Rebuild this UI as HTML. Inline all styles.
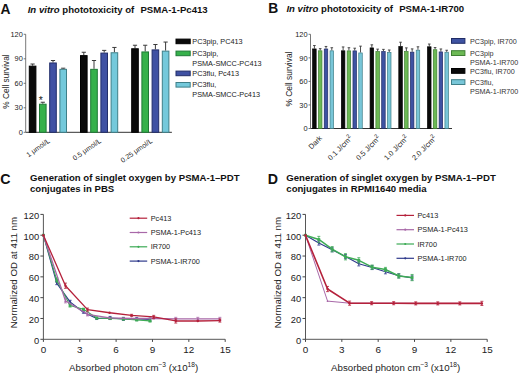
<!DOCTYPE html>
<html><head><meta charset="utf-8"><style>
html,body{margin:0;padding:0;background:#fff;}
svg{display:block;}
text{font-family:"Liberation Sans",sans-serif;white-space:pre;}
</style></head><body>
<svg width="520" height="374" viewBox="0 0 520 374" font-family="Liberation Sans, sans-serif">
<rect width="520" height="374" fill="#fff"/>
<line x1="25.7" y1="34.29600000000002" x2="25.7" y2="132.3" stroke="#555" stroke-width="0.8"/>
<line x1="25.7" y1="132.3" x2="171.9" y2="132.3" stroke="#333" stroke-width="1"/>
<line x1="23.7" y1="132.3" x2="25.7" y2="132.3" stroke="#555" stroke-width="0.8"/>
<text x="22.8" y="135.0" font-size="7.4" text-anchor="end" fill="#222">0</text>
<line x1="23.7" y1="107.799" x2="25.7" y2="107.799" stroke="#555" stroke-width="0.8"/>
<text x="22.8" y="110.49900000000001" font-size="7.4" text-anchor="end" fill="#222">30</text>
<line x1="23.7" y1="83.29800000000002" x2="25.7" y2="83.29800000000002" stroke="#555" stroke-width="0.8"/>
<text x="22.8" y="85.99800000000002" font-size="7.4" text-anchor="end" fill="#222">60</text>
<line x1="23.7" y1="58.79700000000001" x2="25.7" y2="58.79700000000001" stroke="#555" stroke-width="0.8"/>
<text x="22.8" y="61.497000000000014" font-size="7.4" text-anchor="end" fill="#222">90</text>
<line x1="23.7" y1="34.29600000000002" x2="25.7" y2="34.29600000000002" stroke="#555" stroke-width="0.8"/>
<text x="22.8" y="36.99600000000002" font-size="7.4" text-anchor="end" fill="#222">120</text>
<line x1="32.6" y1="65.65728000000001" x2="32.6" y2="64.02388000000002" stroke="#3a3a3a" stroke-width="1"/>
<line x1="30.5" y1="64.02388000000002" x2="34.7" y2="64.02388000000002" stroke="#3a3a3a" stroke-width="1"/>
<rect x="29.3" y="66.15728000000001" width="6.6" height="66.14272" fill="#0a0a0a" stroke="#000" stroke-width="1"/>
<line x1="42.8" y1="103.71550000000002" x2="42.8" y2="102.24544000000002" stroke="#3a3a3a" stroke-width="1"/>
<line x1="40.699999999999996" y1="102.24544000000002" x2="44.9" y2="102.24544000000002" stroke="#3a3a3a" stroke-width="1"/>
<rect x="39.5" y="104.21550000000002" width="6.6" height="28.08449999999999" fill="#36b14b" stroke="#1f7a36" stroke-width="1"/>
<line x1="53.0" y1="62.47215000000001" x2="53.0" y2="60.51207000000001" stroke="#3a3a3a" stroke-width="1"/>
<line x1="50.9" y1="60.51207000000001" x2="55.1" y2="60.51207000000001" stroke="#3a3a3a" stroke-width="1"/>
<rect x="49.7" y="62.97215000000001" width="6.6" height="69.32785" fill="#3f51a3" stroke="#222e6a" stroke-width="1"/>
<line x1="63.199999999999996" y1="68.84241" x2="63.199999999999996" y2="68.18905000000001" stroke="#3a3a3a" stroke-width="1"/>
<line x1="61.099999999999994" y1="68.18905000000001" x2="65.3" y2="68.18905000000001" stroke="#3a3a3a" stroke-width="1"/>
<rect x="59.9" y="69.34241" width="6.6" height="62.95759000000001" fill="#74c9db" stroke="#3f7f88" stroke-width="1"/>
<line x1="83.8" y1="55.12185000000001" x2="83.8" y2="52.26340000000002" stroke="#3a3a3a" stroke-width="1"/>
<line x1="81.7" y1="52.26340000000002" x2="85.89999999999999" y2="52.26340000000002" stroke="#3a3a3a" stroke-width="1"/>
<rect x="80.5" y="55.62185000000001" width="6.6" height="76.67815" fill="#0a0a0a" stroke="#000" stroke-width="1"/>
<line x1="94.0" y1="68.84241" x2="94.0" y2="60.51207000000001" stroke="#3a3a3a" stroke-width="1"/>
<line x1="91.9" y1="60.51207000000001" x2="96.1" y2="60.51207000000001" stroke="#3a3a3a" stroke-width="1"/>
<rect x="90.7" y="69.34241" width="6.6" height="62.95759000000001" fill="#36b14b" stroke="#1f7a36" stroke-width="1"/>
<line x1="104.2" y1="52.590080000000015" x2="104.2" y2="50.384990000000016" stroke="#3a3a3a" stroke-width="1"/>
<line x1="102.10000000000001" y1="50.384990000000016" x2="106.3" y2="50.384990000000016" stroke="#3a3a3a" stroke-width="1"/>
<rect x="100.9" y="53.090080000000015" width="6.6" height="79.20992" fill="#3f51a3" stroke="#222e6a" stroke-width="1"/>
<line x1="114.39999999999999" y1="52.26340000000002" x2="114.39999999999999" y2="47.44487000000001" stroke="#3a3a3a" stroke-width="1"/>
<line x1="112.3" y1="47.44487000000001" x2="116.49999999999999" y2="47.44487000000001" stroke="#3a3a3a" stroke-width="1"/>
<rect x="111.1" y="52.76340000000002" width="6.6" height="79.53659999999999" fill="#74c9db" stroke="#3f7f88" stroke-width="1"/>
<line x1="135.0" y1="48.261570000000006" x2="135.0" y2="45.239780000000025" stroke="#3a3a3a" stroke-width="1"/>
<line x1="132.9" y1="45.239780000000025" x2="137.1" y2="45.239780000000025" stroke="#3a3a3a" stroke-width="1"/>
<rect x="131.7" y="48.761570000000006" width="6.6" height="83.53843" fill="#0a0a0a" stroke="#000" stroke-width="1"/>
<line x1="145.2" y1="51.44670000000001" x2="145.2" y2="45.239780000000025" stroke="#3a3a3a" stroke-width="1"/>
<line x1="143.1" y1="45.239780000000025" x2="147.29999999999998" y2="45.239780000000025" stroke="#3a3a3a" stroke-width="1"/>
<rect x="141.89999999999998" y="51.94670000000001" width="6.6" height="80.3533" fill="#36b14b" stroke="#1f7a36" stroke-width="1"/>
<line x1="155.4" y1="49.404950000000014" x2="155.4" y2="44.504750000000016" stroke="#3a3a3a" stroke-width="1"/>
<line x1="153.3" y1="44.504750000000016" x2="157.5" y2="44.504750000000016" stroke="#3a3a3a" stroke-width="1"/>
<rect x="152.1" y="49.904950000000014" width="6.6" height="82.39505" fill="#3f51a3" stroke="#222e6a" stroke-width="1"/>
<line x1="165.6" y1="50.63000000000001" x2="165.6" y2="42.05465000000001" stroke="#3a3a3a" stroke-width="1"/>
<line x1="163.5" y1="42.05465000000001" x2="167.7" y2="42.05465000000001" stroke="#3a3a3a" stroke-width="1"/>
<rect x="162.29999999999998" y="51.13000000000001" width="6.6" height="81.17" fill="#74c9db" stroke="#3f7f88" stroke-width="1"/>
<text x="40.9" y="103.8" font-size="10.5" text-anchor="middle" fill="#222">*</text>
<text x="50.5" y="141.9" font-size="7.0" text-anchor="end" fill="#222" transform="rotate(-35.0 50.5 141.9)">1 μmol/L</text>
<text x="101.69999999999999" y="141.9" font-size="7.0" text-anchor="end" fill="#222" transform="rotate(-35.0 101.69999999999999 141.9)">0.5 μmol/L</text>
<text x="152.89999999999998" y="141.9" font-size="7.0" text-anchor="end" fill="#222" transform="rotate(-35.0 152.89999999999998 141.9)">0.25 μmol/L</text>
<text x="8.6" y="81.55" font-size="8.3" text-anchor="middle" fill="#222" transform="rotate(-90 8.6 81.55)">% Cell survival</text>
<rect x="176.0" y="39.1" width="14.2" height="4.6" fill="#0a0a0a" stroke="#000" stroke-width="1"/>
<text x="192.3" y="43.800000000000004" font-size="7.3" fill="#222">PC3pip, PC413</text>
<rect x="176.0" y="51.1" width="14.2" height="4.6" fill="#36b14b" stroke="#1f7a36" stroke-width="1"/>
<text x="192.3" y="55.800000000000004" font-size="7.3" fill="#222">PC3pip,</text>
<text x="192.3" y="65.80000000000001" font-size="7.3" fill="#222">PSMA-SMCC-PC413</text>
<rect x="176.0" y="71.1" width="14.2" height="4.6" fill="#3f51a3" stroke="#222e6a" stroke-width="1"/>
<text x="192.3" y="75.8" font-size="7.3" fill="#222">PC3flu, Pc413</text>
<rect x="176.0" y="82.5" width="14.2" height="4.6" fill="#74c9db" stroke="#3f7f88" stroke-width="1"/>
<text x="192.3" y="87.2" font-size="7.3" fill="#222">PC3flu,</text>
<text x="192.3" y="97.2" font-size="7.3" fill="#222">PSMA-SMCC-Pc413</text>
<text x="0.5" y="14.4" font-size="13.8" font-weight="bold" fill="#111">A</text>
<text x="27.7" y="12.5" font-size="9.6" font-weight="bold" fill="#111"><tspan font-style="italic">In vitro</tspan> phototoxicity of <tspan dx="3.5">PSMA-1-Pc413</tspan></text>
<line x1="310.5" y1="34.3" x2="310.5" y2="128.5" stroke="#555" stroke-width="0.8"/>
<line x1="310.5" y1="128.5" x2="452" y2="128.5" stroke="#333" stroke-width="1"/>
<line x1="308.5" y1="128.5" x2="310.5" y2="128.5" stroke="#555" stroke-width="0.8"/>
<text x="307.5" y="131.2" font-size="7.4" text-anchor="end" fill="#222">0</text>
<line x1="308.5" y1="104.95" x2="310.5" y2="104.95" stroke="#555" stroke-width="0.8"/>
<text x="307.5" y="107.65" font-size="7.4" text-anchor="end" fill="#222">30</text>
<line x1="308.5" y1="81.4" x2="310.5" y2="81.4" stroke="#555" stroke-width="0.8"/>
<text x="307.5" y="84.10000000000001" font-size="7.4" text-anchor="end" fill="#222">60</text>
<line x1="308.5" y1="57.849999999999994" x2="310.5" y2="57.849999999999994" stroke="#555" stroke-width="0.8"/>
<text x="307.5" y="60.55" font-size="7.4" text-anchor="end" fill="#222">90</text>
<line x1="308.5" y1="34.3" x2="310.5" y2="34.3" stroke="#555" stroke-width="0.8"/>
<text x="307.5" y="37.0" font-size="7.4" text-anchor="end" fill="#222">120</text>
<line x1="314.40000000000003" y1="48.587" x2="314.40000000000003" y2="45.525499999999994" stroke="#3a3a3a" stroke-width="0.9"/>
<line x1="313.1" y1="45.525499999999994" x2="315.70000000000005" y2="45.525499999999994" stroke="#3a3a3a" stroke-width="0.9"/>
<rect x="312.65000000000003" y="48.937000000000005" width="3.5" height="79.563" fill="#0a0a0a" stroke="#000" stroke-width="0.7"/>
<line x1="320.20000000000005" y1="50.47099999999999" x2="320.20000000000005" y2="48.665499999999994" stroke="#3a3a3a" stroke-width="0.9"/>
<line x1="318.90000000000003" y1="48.665499999999994" x2="321.50000000000006" y2="48.665499999999994" stroke="#3a3a3a" stroke-width="0.9"/>
<rect x="318.45000000000005" y="50.82099999999999" width="3.5" height="77.67900000000002" fill="#6cb954" stroke="#3f7f33" stroke-width="0.7"/>
<line x1="326.00000000000006" y1="48.665499999999994" x2="326.00000000000006" y2="46.4675" stroke="#3a3a3a" stroke-width="0.9"/>
<line x1="324.70000000000005" y1="46.4675" x2="327.30000000000007" y2="46.4675" stroke="#3a3a3a" stroke-width="0.9"/>
<rect x="324.25000000000006" y="49.015499999999996" width="3.5" height="79.48450000000001" fill="#3e53a2" stroke="#202c66" stroke-width="0.7"/>
<line x1="331.8" y1="50.47099999999999" x2="331.8" y2="47.72349999999999" stroke="#3a3a3a" stroke-width="0.9"/>
<line x1="330.5" y1="47.72349999999999" x2="333.1" y2="47.72349999999999" stroke="#3a3a3a" stroke-width="0.9"/>
<rect x="330.05" y="50.82099999999999" width="3.5" height="77.67900000000002" fill="#78c6d8" stroke="#3f7f88" stroke-width="0.7"/>
<line x1="343.12" y1="50.47099999999999" x2="343.12" y2="46.93849999999999" stroke="#3a3a3a" stroke-width="0.9"/>
<line x1="341.82" y1="46.93849999999999" x2="344.42" y2="46.93849999999999" stroke="#3a3a3a" stroke-width="0.9"/>
<rect x="341.37" y="50.82099999999999" width="3.5" height="77.67900000000002" fill="#0a0a0a" stroke="#000" stroke-width="0.7"/>
<line x1="348.92" y1="50.549499999999995" x2="348.92" y2="47.72349999999999" stroke="#3a3a3a" stroke-width="0.9"/>
<line x1="347.62" y1="47.72349999999999" x2="350.22" y2="47.72349999999999" stroke="#3a3a3a" stroke-width="0.9"/>
<rect x="347.17" y="50.899499999999996" width="3.5" height="77.60050000000001" fill="#6cb954" stroke="#3f7f33" stroke-width="0.7"/>
<line x1="354.72" y1="50.549499999999995" x2="354.72" y2="48.194500000000005" stroke="#3a3a3a" stroke-width="0.9"/>
<line x1="353.42" y1="48.194500000000005" x2="356.02000000000004" y2="48.194500000000005" stroke="#3a3a3a" stroke-width="0.9"/>
<rect x="352.97" y="50.899499999999996" width="3.5" height="77.60050000000001" fill="#3e53a2" stroke="#202c66" stroke-width="0.7"/>
<line x1="360.52" y1="52.59049999999999" x2="360.52" y2="46.153499999999994" stroke="#3a3a3a" stroke-width="0.9"/>
<line x1="359.21999999999997" y1="46.153499999999994" x2="361.82" y2="46.153499999999994" stroke="#3a3a3a" stroke-width="0.9"/>
<rect x="358.77" y="52.94049999999999" width="3.5" height="75.55950000000001" fill="#78c6d8" stroke="#3f7f88" stroke-width="0.7"/>
<line x1="371.84000000000003" y1="47.566500000000005" x2="371.84000000000003" y2="44.819" stroke="#3a3a3a" stroke-width="0.9"/>
<line x1="370.54" y1="44.819" x2="373.14000000000004" y2="44.819" stroke="#3a3a3a" stroke-width="0.9"/>
<rect x="370.09000000000003" y="47.916500000000006" width="3.5" height="80.5835" fill="#0a0a0a" stroke="#000" stroke-width="0.7"/>
<line x1="377.64000000000004" y1="51.177499999999995" x2="377.64000000000004" y2="49.1365" stroke="#3a3a3a" stroke-width="0.9"/>
<line x1="376.34000000000003" y1="49.1365" x2="378.94000000000005" y2="49.1365" stroke="#3a3a3a" stroke-width="0.9"/>
<rect x="375.89000000000004" y="51.527499999999996" width="3.5" height="76.97250000000001" fill="#6cb954" stroke="#3f7f33" stroke-width="0.7"/>
<line x1="383.44000000000005" y1="51.177499999999995" x2="383.44000000000005" y2="49.372" stroke="#3a3a3a" stroke-width="0.9"/>
<line x1="382.14000000000004" y1="49.372" x2="384.74000000000007" y2="49.372" stroke="#3a3a3a" stroke-width="0.9"/>
<rect x="381.69000000000005" y="51.527499999999996" width="3.5" height="76.97250000000001" fill="#3e53a2" stroke="#202c66" stroke-width="0.7"/>
<line x1="389.24" y1="52.041" x2="389.24" y2="50.0" stroke="#3a3a3a" stroke-width="0.9"/>
<line x1="387.94" y1="50.0" x2="390.54" y2="50.0" stroke="#3a3a3a" stroke-width="0.9"/>
<rect x="387.49" y="52.391" width="3.5" height="76.10900000000001" fill="#78c6d8" stroke="#3f7f88" stroke-width="0.7"/>
<line x1="400.56000000000006" y1="46.232" x2="400.56000000000006" y2="42.2285" stroke="#3a3a3a" stroke-width="0.9"/>
<line x1="399.26000000000005" y1="42.2285" x2="401.86000000000007" y2="42.2285" stroke="#3a3a3a" stroke-width="0.9"/>
<rect x="398.81000000000006" y="46.582" width="3.5" height="81.918" fill="#0a0a0a" stroke="#000" stroke-width="0.7"/>
<line x1="406.36000000000007" y1="51.177499999999995" x2="406.36000000000007" y2="47.8805" stroke="#3a3a3a" stroke-width="0.9"/>
<line x1="405.06000000000006" y1="47.8805" x2="407.6600000000001" y2="47.8805" stroke="#3a3a3a" stroke-width="0.9"/>
<rect x="404.61000000000007" y="51.527499999999996" width="3.5" height="76.97250000000001" fill="#6cb954" stroke="#3f7f33" stroke-width="0.7"/>
<line x1="412.1600000000001" y1="51.805499999999995" x2="412.1600000000001" y2="48.900999999999996" stroke="#3a3a3a" stroke-width="0.9"/>
<line x1="410.86000000000007" y1="48.900999999999996" x2="413.4600000000001" y2="48.900999999999996" stroke="#3a3a3a" stroke-width="0.9"/>
<rect x="410.4100000000001" y="52.155499999999996" width="3.5" height="76.34450000000001" fill="#3e53a2" stroke="#202c66" stroke-width="0.7"/>
<line x1="417.96000000000004" y1="49.84299999999999" x2="417.96000000000004" y2="46.78150000000001" stroke="#3a3a3a" stroke-width="0.9"/>
<line x1="416.66" y1="46.78150000000001" x2="419.26000000000005" y2="46.78150000000001" stroke="#3a3a3a" stroke-width="0.9"/>
<rect x="416.21000000000004" y="50.19299999999999" width="3.5" height="78.30700000000002" fill="#78c6d8" stroke="#3f7f88" stroke-width="0.7"/>
<line x1="429.28000000000003" y1="46.4675" x2="429.28000000000003" y2="44.034000000000006" stroke="#3a3a3a" stroke-width="0.9"/>
<line x1="427.98" y1="44.034000000000006" x2="430.58000000000004" y2="44.034000000000006" stroke="#3a3a3a" stroke-width="0.9"/>
<rect x="427.53000000000003" y="46.8175" width="3.5" height="81.6825" fill="#0a0a0a" stroke="#000" stroke-width="0.7"/>
<line x1="435.08000000000004" y1="49.372" x2="435.08000000000004" y2="47.566500000000005" stroke="#3a3a3a" stroke-width="0.9"/>
<line x1="433.78000000000003" y1="47.566500000000005" x2="436.38000000000005" y2="47.566500000000005" stroke="#3a3a3a" stroke-width="0.9"/>
<rect x="433.33000000000004" y="49.722" width="3.5" height="78.778" fill="#6cb954" stroke="#3f7f33" stroke-width="0.7"/>
<line x1="440.88000000000005" y1="51.56999999999999" x2="440.88000000000005" y2="48.9795" stroke="#3a3a3a" stroke-width="0.9"/>
<line x1="439.58000000000004" y1="48.9795" x2="442.18000000000006" y2="48.9795" stroke="#3a3a3a" stroke-width="0.9"/>
<rect x="439.13000000000005" y="51.919999999999995" width="3.5" height="76.58000000000001" fill="#3e53a2" stroke="#202c66" stroke-width="0.7"/>
<line x1="446.68" y1="51.884" x2="446.68" y2="50.23549999999999" stroke="#3a3a3a" stroke-width="0.9"/>
<line x1="445.38" y1="50.23549999999999" x2="447.98" y2="50.23549999999999" stroke="#3a3a3a" stroke-width="0.9"/>
<rect x="444.93" y="52.234" width="3.5" height="76.266" fill="#78c6d8" stroke="#3f7f88" stroke-width="0.7"/>
<text x="322.5" y="138.7" font-size="7.4" text-anchor="end" fill="#222" transform="rotate(-45 322.5 138.7)">Dark</text>
<text x="352.92" y="138.7" font-size="7.4" text-anchor="end" fill="#222" transform="rotate(-45 352.92 138.7)">0.1 J/cm<tspan dy="-3.1" font-size="5.8">2</tspan></text>
<text x="380.97" y="138.7" font-size="7.4" text-anchor="end" fill="#222" transform="rotate(-45 380.97 138.7)">0.5 J/cm<tspan dy="-3.1" font-size="5.8">2</tspan></text>
<text x="409.02000000000004" y="138.7" font-size="7.4" text-anchor="end" fill="#222" transform="rotate(-45 409.02000000000004 138.7)">1.0 J/cm<tspan dy="-3.1" font-size="5.8">2</tspan></text>
<text x="437.07000000000005" y="138.7" font-size="7.4" text-anchor="end" fill="#222" transform="rotate(-45 437.07000000000005 138.7)">2.0 J/cm<tspan dy="-3.1" font-size="5.8">2</tspan></text>
<text x="291.6" y="79.0" font-size="8.4" text-anchor="middle" fill="#222" transform="rotate(-90 291.6 79.0)">% Cell survival</text>
<rect x="451.5" y="38.5" width="13.4" height="4.8" fill="#3e53a2" stroke="#202c66" stroke-width="1"/>
<text x="470" y="43.9" font-size="7.2" fill="#333">PC3pip, IR700</text>
<rect x="451.5" y="50.7" width="13.4" height="4.8" fill="#6cb954" stroke="#3f7f33" stroke-width="1"/>
<text x="470" y="56.1" font-size="7.2" fill="#333">PC3pip</text>
<text x="470" y="65.4" font-size="7.2" fill="#333">PSMA-1-IR700</text>
<rect x="451.5" y="68.5" width="13.4" height="4.8" fill="#0a0a0a" stroke="#000" stroke-width="1"/>
<text x="470" y="73.9" font-size="7.2" fill="#333">PC3flu, IR700</text>
<rect x="451.5" y="79.69999999999999" width="13.4" height="4.8" fill="#78c6d8" stroke="#3f7f88" stroke-width="1"/>
<text x="470" y="85.1" font-size="7.2" fill="#333">PC3flu,</text>
<text x="470" y="94.39999999999999" font-size="7.2" fill="#333">PSMA-1-IR700</text>
<text x="268.3" y="13.1" font-size="13.8" font-weight="bold" fill="#111">B</text>
<text x="286.4" y="12.3" font-size="9.6" font-weight="bold" fill="#111"><tspan font-style="italic">In vitro</tspan> phototoxicity of <tspan dx="3.5">PSMA-1-IR700</tspan></text>
<line x1="43.4" y1="214.4" x2="43.4" y2="339.3" stroke="#444" stroke-width="0.9"/>
<line x1="43.4" y1="339.3" x2="225.2" y2="339.3" stroke="#444" stroke-width="0.9"/>
<line x1="40.4" y1="339.3" x2="43.4" y2="339.3" stroke="#444" stroke-width="1"/>
<text x="39.199999999999996" y="343.6" font-size="9.4" text-anchor="end" fill="#222">0</text>
<line x1="40.4" y1="318.48333333333335" x2="43.4" y2="318.48333333333335" stroke="#444" stroke-width="1"/>
<text x="39.199999999999996" y="322.78333333333336" font-size="9.4" text-anchor="end" fill="#222">20</text>
<line x1="40.4" y1="297.6666666666667" x2="43.4" y2="297.6666666666667" stroke="#444" stroke-width="1"/>
<text x="39.199999999999996" y="301.9666666666667" font-size="9.4" text-anchor="end" fill="#222">40</text>
<line x1="40.4" y1="276.85" x2="43.4" y2="276.85" stroke="#444" stroke-width="1"/>
<text x="39.199999999999996" y="281.15000000000003" font-size="9.4" text-anchor="end" fill="#222">60</text>
<line x1="40.4" y1="256.03333333333336" x2="43.4" y2="256.03333333333336" stroke="#444" stroke-width="1"/>
<text x="39.199999999999996" y="260.33333333333337" font-size="9.4" text-anchor="end" fill="#222">80</text>
<line x1="40.4" y1="235.2166666666667" x2="43.4" y2="235.2166666666667" stroke="#444" stroke-width="1"/>
<text x="39.199999999999996" y="239.5166666666667" font-size="9.4" text-anchor="end" fill="#222">100</text>
<line x1="40.4" y1="214.4" x2="43.4" y2="214.4" stroke="#444" stroke-width="1"/>
<text x="39.199999999999996" y="218.70000000000002" font-size="9.4" text-anchor="end" fill="#222">120</text>
<line x1="43.4" y1="339.3" x2="43.4" y2="341.90000000000003" stroke="#444" stroke-width="1"/>
<text x="43.4" y="353.1" font-size="9.9" text-anchor="middle" fill="#222">0</text>
<line x1="79.75999999999999" y1="339.3" x2="79.75999999999999" y2="341.90000000000003" stroke="#444" stroke-width="1"/>
<text x="79.75999999999999" y="353.1" font-size="9.9" text-anchor="middle" fill="#222">3</text>
<line x1="116.12" y1="339.3" x2="116.12" y2="341.90000000000003" stroke="#444" stroke-width="1"/>
<text x="116.12" y="353.1" font-size="9.9" text-anchor="middle" fill="#222">6</text>
<line x1="152.48" y1="339.3" x2="152.48" y2="341.90000000000003" stroke="#444" stroke-width="1"/>
<text x="152.48" y="353.1" font-size="9.9" text-anchor="middle" fill="#222">9</text>
<line x1="188.84" y1="339.3" x2="188.84" y2="341.90000000000003" stroke="#444" stroke-width="1"/>
<text x="188.84" y="353.1" font-size="9.9" text-anchor="middle" fill="#222">12</text>
<line x1="225.2" y1="339.3" x2="225.2" y2="341.90000000000003" stroke="#444" stroke-width="1"/>
<text x="225.2" y="353.1" font-size="9.9" text-anchor="middle" fill="#222">15</text>
<text x="69.1" y="370.6" font-size="9.7" fill="#222">Absorbed photon cm<tspan dy="-3.9" font-size="6.6">−3</tspan><tspan dy="3.9"> (x10</tspan><tspan dy="-3.9" font-size="6.6">18</tspan><tspan dy="3.9">)</tspan></text>
<text x="17.4" y="272.6" font-size="9.7" text-anchor="middle" fill="#222" transform="rotate(-90 17.4 272.6)">Normalized OD at 411 nm</text>
<text x="0.3" y="183.7" font-size="14.2" font-weight="bold" fill="#111">C</text>
<text x="30" y="180.7" font-size="9.6" font-weight="bold" fill="#111">Generation of singlet oxygen by PSMA-1–PDT</text>
<text x="30" y="192.4" font-size="9.6" font-weight="bold" fill="#111">conjugates in PBS</text>
<polyline points="43.40,235.22 56.73,283.10 70.06,301.83 83.40,312.24 96.73,318.48 110.06,317.96 123.39,318.90 136.72,319.00 150.06,319.52" fill="none" stroke="#2f3a8c" stroke-width="1.1" stroke-linejoin="round"/>
<path d="M42.08,234.12 L44.72,234.12 L43.40,236.43 Z" fill="#2f3a8c"/>
<line x1="56.732" y1="284.65625" x2="56.732" y2="281.53375" stroke="#2f3a8c" stroke-width="0.8"/>
<line x1="55.232" y1="284.65625" x2="58.232" y2="284.65625" stroke="#2f3a8c" stroke-width="0.8"/>
<line x1="55.232" y1="281.53375" x2="58.232" y2="281.53375" stroke="#2f3a8c" stroke-width="0.8"/>
<path d="M55.41,282.00 L58.05,282.00 L56.73,284.31 Z" fill="#2f3a8c"/>
<line x1="70.064" y1="303.39125" x2="70.064" y2="300.26875" stroke="#2f3a8c" stroke-width="0.8"/>
<line x1="68.564" y1="303.39125" x2="71.564" y2="303.39125" stroke="#2f3a8c" stroke-width="0.8"/>
<line x1="68.564" y1="300.26875" x2="71.564" y2="300.26875" stroke="#2f3a8c" stroke-width="0.8"/>
<path d="M68.74,300.73 L71.38,300.73 L70.06,303.04 Z" fill="#2f3a8c"/>
<line x1="83.39599999999999" y1="313.2791666666667" x2="83.39599999999999" y2="311.1975" stroke="#2f3a8c" stroke-width="0.8"/>
<line x1="81.89599999999999" y1="313.2791666666667" x2="84.89599999999999" y2="313.2791666666667" stroke="#2f3a8c" stroke-width="0.8"/>
<line x1="81.89599999999999" y1="311.1975" x2="84.89599999999999" y2="311.1975" stroke="#2f3a8c" stroke-width="0.8"/>
<path d="M82.08,311.14 L84.72,311.14 L83.40,313.45 Z" fill="#2f3a8c"/>
<line x1="96.728" y1="319.5241666666667" x2="96.728" y2="317.4425" stroke="#2f3a8c" stroke-width="0.8"/>
<line x1="95.228" y1="319.5241666666667" x2="98.228" y2="319.5241666666667" stroke="#2f3a8c" stroke-width="0.8"/>
<line x1="95.228" y1="317.4425" x2="98.228" y2="317.4425" stroke="#2f3a8c" stroke-width="0.8"/>
<path d="M95.41,317.38 L98.05,317.38 L96.73,319.69 Z" fill="#2f3a8c"/>
<line x1="110.06" y1="319.5241666666667" x2="110.06" y2="316.4016666666667" stroke="#2f3a8c" stroke-width="0.8"/>
<line x1="108.56" y1="319.5241666666667" x2="111.56" y2="319.5241666666667" stroke="#2f3a8c" stroke-width="0.8"/>
<line x1="108.56" y1="316.4016666666667" x2="111.56" y2="316.4016666666667" stroke="#2f3a8c" stroke-width="0.8"/>
<path d="M108.74,316.86 L111.38,316.86 L110.06,319.17 Z" fill="#2f3a8c"/>
<line x1="123.392" y1="320.46091666666666" x2="123.392" y2="317.33841666666666" stroke="#2f3a8c" stroke-width="0.8"/>
<line x1="121.892" y1="320.46091666666666" x2="124.892" y2="320.46091666666666" stroke="#2f3a8c" stroke-width="0.8"/>
<line x1="121.892" y1="317.33841666666666" x2="124.892" y2="317.33841666666666" stroke="#2f3a8c" stroke-width="0.8"/>
<path d="M122.07,317.80 L124.71,317.80 L123.39,320.11 Z" fill="#2f3a8c"/>
<line x1="136.724" y1="320.565" x2="136.724" y2="317.4425" stroke="#2f3a8c" stroke-width="0.8"/>
<line x1="135.224" y1="320.565" x2="138.224" y2="320.565" stroke="#2f3a8c" stroke-width="0.8"/>
<line x1="135.224" y1="317.4425" x2="138.224" y2="317.4425" stroke="#2f3a8c" stroke-width="0.8"/>
<path d="M135.40,317.90 L138.04,317.90 L136.72,320.21 Z" fill="#2f3a8c"/>
<line x1="150.05599999999998" y1="321.0854166666667" x2="150.05599999999998" y2="317.9629166666667" stroke="#2f3a8c" stroke-width="0.8"/>
<line x1="148.55599999999998" y1="321.0854166666667" x2="151.55599999999998" y2="321.0854166666667" stroke="#2f3a8c" stroke-width="0.8"/>
<line x1="148.55599999999998" y1="317.9629166666667" x2="151.55599999999998" y2="317.9629166666667" stroke="#2f3a8c" stroke-width="0.8"/>
<path d="M148.74,318.42 L151.38,318.42 L150.06,320.73 Z" fill="#2f3a8c"/>
<polyline points="43.40,235.22 56.73,279.97 70.06,305.47 83.40,309.32 96.73,317.96 110.06,318.48 123.39,319.00 136.72,319.84 150.06,320.88" fill="none" stroke="#3dab55" stroke-width="1.1" stroke-linejoin="round"/>
<rect x="42.0" y="233.8166666666667" width="2.8" height="2.8" fill="#3dab55"/>
<line x1="56.732" y1="282.0541666666667" x2="56.732" y2="277.8908333333333" stroke="#3dab55" stroke-width="0.8"/>
<line x1="55.232" y1="282.0541666666667" x2="58.232" y2="282.0541666666667" stroke="#3dab55" stroke-width="0.8"/>
<line x1="55.232" y1="277.8908333333333" x2="58.232" y2="277.8908333333333" stroke="#3dab55" stroke-width="0.8"/>
<rect x="55.332" y="278.57250000000005" width="2.8" height="2.8" fill="#3dab55"/>
<line x1="70.064" y1="307.0341666666667" x2="70.064" y2="303.9116666666667" stroke="#3dab55" stroke-width="0.8"/>
<line x1="68.564" y1="307.0341666666667" x2="71.564" y2="307.0341666666667" stroke="#3dab55" stroke-width="0.8"/>
<line x1="68.564" y1="303.9116666666667" x2="71.564" y2="303.9116666666667" stroke="#3dab55" stroke-width="0.8"/>
<rect x="68.66399999999999" y="304.0729166666667" width="2.8" height="2.8" fill="#3dab55"/>
<line x1="83.39599999999999" y1="310.36483333333337" x2="83.39599999999999" y2="308.28316666666666" stroke="#3dab55" stroke-width="0.8"/>
<line x1="81.89599999999999" y1="310.36483333333337" x2="84.89599999999999" y2="310.36483333333337" stroke="#3dab55" stroke-width="0.8"/>
<line x1="81.89599999999999" y1="308.28316666666666" x2="84.89599999999999" y2="308.28316666666666" stroke="#3dab55" stroke-width="0.8"/>
<rect x="81.99599999999998" y="307.92400000000004" width="2.8" height="2.8" fill="#3dab55"/>
<line x1="96.728" y1="319.00375" x2="96.728" y2="316.9220833333333" stroke="#3dab55" stroke-width="0.8"/>
<line x1="95.228" y1="319.00375" x2="98.228" y2="319.00375" stroke="#3dab55" stroke-width="0.8"/>
<line x1="95.228" y1="316.9220833333333" x2="98.228" y2="316.9220833333333" stroke="#3dab55" stroke-width="0.8"/>
<rect x="95.32799999999999" y="316.5629166666667" width="2.8" height="2.8" fill="#3dab55"/>
<line x1="110.06" y1="319.5241666666667" x2="110.06" y2="317.4425" stroke="#3dab55" stroke-width="0.8"/>
<line x1="108.56" y1="319.5241666666667" x2="111.56" y2="319.5241666666667" stroke="#3dab55" stroke-width="0.8"/>
<line x1="108.56" y1="317.4425" x2="111.56" y2="317.4425" stroke="#3dab55" stroke-width="0.8"/>
<rect x="108.66" y="317.08333333333337" width="2.8" height="2.8" fill="#3dab55"/>
<line x1="123.392" y1="320.0445833333333" x2="123.392" y2="317.9629166666667" stroke="#3dab55" stroke-width="0.8"/>
<line x1="121.892" y1="320.0445833333333" x2="124.892" y2="320.0445833333333" stroke="#3dab55" stroke-width="0.8"/>
<line x1="121.892" y1="317.9629166666667" x2="124.892" y2="317.9629166666667" stroke="#3dab55" stroke-width="0.8"/>
<rect x="121.99199999999999" y="317.60375000000005" width="2.8" height="2.8" fill="#3dab55"/>
<line x1="136.724" y1="320.87725" x2="136.724" y2="318.79558333333335" stroke="#3dab55" stroke-width="0.8"/>
<line x1="135.224" y1="320.87725" x2="138.224" y2="320.87725" stroke="#3dab55" stroke-width="0.8"/>
<line x1="135.224" y1="318.79558333333335" x2="138.224" y2="318.79558333333335" stroke="#3dab55" stroke-width="0.8"/>
<rect x="135.32399999999998" y="318.4364166666667" width="2.8" height="2.8" fill="#3dab55"/>
<line x1="150.05599999999998" y1="321.91808333333336" x2="150.05599999999998" y2="319.83641666666665" stroke="#3dab55" stroke-width="0.8"/>
<line x1="148.55599999999998" y1="321.91808333333336" x2="151.55599999999998" y2="321.91808333333336" stroke="#3dab55" stroke-width="0.8"/>
<line x1="148.55599999999998" y1="319.83641666666665" x2="151.55599999999998" y2="319.83641666666665" stroke="#3dab55" stroke-width="0.8"/>
<rect x="148.65599999999998" y="319.47725" width="2.8" height="2.8" fill="#3dab55"/>
<polyline points="43.40,235.22 65.46,300.79 87.52,314.32 109.58,317.96 131.63,318.48 153.69,318.48 175.75,318.90 197.81,318.90 219.87,318.90" fill="none" stroke="#a868a8" stroke-width="1.3" stroke-linejoin="round"/>
<path d="M42.08,236.32 L44.72,236.32 L43.40,234.01 Z" fill="#a868a8"/>
<line x1="65.4584" y1="302.87083333333334" x2="65.4584" y2="298.7075" stroke="#a868a8" stroke-width="0.8"/>
<line x1="63.9584" y1="302.87083333333334" x2="66.9584" y2="302.87083333333334" stroke="#a868a8" stroke-width="0.8"/>
<line x1="63.9584" y1="298.7075" x2="66.9584" y2="298.7075" stroke="#a868a8" stroke-width="0.8"/>
<path d="M64.14,301.89 L66.78,301.89 L65.46,299.58 Z" fill="#a868a8"/>
<line x1="87.51679999999999" y1="315.88125" x2="87.51679999999999" y2="312.75875" stroke="#a868a8" stroke-width="0.8"/>
<line x1="86.01679999999999" y1="315.88125" x2="89.01679999999999" y2="315.88125" stroke="#a868a8" stroke-width="0.8"/>
<line x1="86.01679999999999" y1="312.75875" x2="89.01679999999999" y2="312.75875" stroke="#a868a8" stroke-width="0.8"/>
<path d="M86.20,315.42 L88.84,315.42 L87.52,313.11 Z" fill="#a868a8"/>
<path d="M108.26,319.06 L110.90,319.06 L109.58,316.75 Z" fill="#a868a8"/>
<path d="M130.31,319.58 L132.95,319.58 L131.63,317.27 Z" fill="#a868a8"/>
<path d="M152.37,319.58 L155.01,319.58 L153.69,317.27 Z" fill="#a868a8"/>
<line x1="175.75039999999998" y1="320.46091666666666" x2="175.75039999999998" y2="317.33841666666666" stroke="#a868a8" stroke-width="0.8"/>
<line x1="174.25039999999998" y1="320.46091666666666" x2="177.25039999999998" y2="320.46091666666666" stroke="#a868a8" stroke-width="0.8"/>
<line x1="174.25039999999998" y1="317.33841666666666" x2="177.25039999999998" y2="317.33841666666666" stroke="#a868a8" stroke-width="0.8"/>
<path d="M174.43,320.00 L177.07,320.00 L175.75,317.69 Z" fill="#a868a8"/>
<line x1="197.8088" y1="320.46091666666666" x2="197.8088" y2="317.33841666666666" stroke="#a868a8" stroke-width="0.8"/>
<line x1="196.3088" y1="320.46091666666666" x2="199.3088" y2="320.46091666666666" stroke="#a868a8" stroke-width="0.8"/>
<line x1="196.3088" y1="317.33841666666666" x2="199.3088" y2="317.33841666666666" stroke="#a868a8" stroke-width="0.8"/>
<path d="M196.49,320.00 L199.13,320.00 L197.81,317.69 Z" fill="#a868a8"/>
<line x1="219.8672" y1="320.46091666666666" x2="219.8672" y2="317.33841666666666" stroke="#a868a8" stroke-width="0.8"/>
<line x1="218.3672" y1="320.46091666666666" x2="221.3672" y2="320.46091666666666" stroke="#a868a8" stroke-width="0.8"/>
<line x1="218.3672" y1="317.33841666666666" x2="221.3672" y2="317.33841666666666" stroke="#a868a8" stroke-width="0.8"/>
<path d="M218.55,320.00 L221.19,320.00 L219.87,317.69 Z" fill="#a868a8"/>
<polyline points="43.40,235.22 65.46,285.70 87.52,309.64 109.58,312.76 131.63,315.36 153.69,316.92 175.75,320.98 197.81,320.98 219.87,320.56" fill="none" stroke="#b5213b" stroke-width="1.3" stroke-linejoin="round"/>
<circle cx="43.4" cy="235.2166666666667" r="1.2" fill="#b5213b"/>
<line x1="65.4584" y1="288.2991666666667" x2="65.4584" y2="283.095" stroke="#b5213b" stroke-width="0.8"/>
<line x1="63.9584" y1="288.2991666666667" x2="66.9584" y2="288.2991666666667" stroke="#b5213b" stroke-width="0.8"/>
<line x1="63.9584" y1="283.095" x2="66.9584" y2="283.095" stroke="#b5213b" stroke-width="0.8"/>
<circle cx="65.4584" cy="285.69708333333335" r="1.2" fill="#b5213b"/>
<line x1="87.51679999999999" y1="311.1975" x2="87.51679999999999" y2="308.075" stroke="#b5213b" stroke-width="0.8"/>
<line x1="86.01679999999999" y1="311.1975" x2="89.01679999999999" y2="311.1975" stroke="#b5213b" stroke-width="0.8"/>
<line x1="86.01679999999999" y1="308.075" x2="89.01679999999999" y2="308.075" stroke="#b5213b" stroke-width="0.8"/>
<circle cx="87.51679999999999" cy="309.63625" r="1.2" fill="#b5213b"/>
<circle cx="109.5752" cy="312.75875" r="1.2" fill="#b5213b"/>
<line x1="131.6336" y1="316.4016666666667" x2="131.6336" y2="314.32" stroke="#b5213b" stroke-width="0.8"/>
<line x1="130.1336" y1="316.4016666666667" x2="133.1336" y2="316.4016666666667" stroke="#b5213b" stroke-width="0.8"/>
<line x1="130.1336" y1="314.32" x2="133.1336" y2="314.32" stroke="#b5213b" stroke-width="0.8"/>
<circle cx="131.6336" cy="315.36083333333335" r="1.2" fill="#b5213b"/>
<line x1="153.69199999999998" y1="318.48333333333335" x2="153.69199999999998" y2="315.36083333333335" stroke="#b5213b" stroke-width="0.8"/>
<line x1="152.19199999999998" y1="318.48333333333335" x2="155.19199999999998" y2="318.48333333333335" stroke="#b5213b" stroke-width="0.8"/>
<line x1="152.19199999999998" y1="315.36083333333335" x2="155.19199999999998" y2="315.36083333333335" stroke="#b5213b" stroke-width="0.8"/>
<circle cx="153.69199999999998" cy="316.9220833333333" r="1.2" fill="#b5213b"/>
<line x1="175.75039999999998" y1="323.063" x2="175.75039999999998" y2="318.8996666666667" stroke="#b5213b" stroke-width="0.8"/>
<line x1="174.25039999999998" y1="323.063" x2="177.25039999999998" y2="323.063" stroke="#b5213b" stroke-width="0.8"/>
<line x1="174.25039999999998" y1="318.8996666666667" x2="177.25039999999998" y2="318.8996666666667" stroke="#b5213b" stroke-width="0.8"/>
<circle cx="175.75039999999998" cy="320.98133333333334" r="1.2" fill="#b5213b"/>
<circle cx="197.8088" cy="320.98133333333334" r="1.2" fill="#b5213b"/>
<line x1="219.8672" y1="322.12625" x2="219.8672" y2="319.00375" stroke="#b5213b" stroke-width="0.8"/>
<line x1="218.3672" y1="322.12625" x2="221.3672" y2="322.12625" stroke="#b5213b" stroke-width="0.8"/>
<line x1="218.3672" y1="319.00375" x2="221.3672" y2="319.00375" stroke="#b5213b" stroke-width="0.8"/>
<circle cx="219.8672" cy="320.565" r="1.2" fill="#b5213b"/>
<line x1="129.7" y1="218.2" x2="147.2" y2="218.2" stroke="#b5213b" stroke-width="1.2"/>
<circle cx="138.45" cy="218.2" r="1.1" fill="#b5213b"/>
<text x="150.7" y="220.79999999999998" font-size="7.3" fill="#222">Pc413</text>
<line x1="129.7" y1="232.5" x2="147.2" y2="232.5" stroke="#a868a8" stroke-width="1.2"/>
<circle cx="138.45" cy="232.5" r="1.1" fill="#a868a8"/>
<text x="150.7" y="235.1" font-size="7.3" fill="#222">PSMA-1-Pc413</text>
<line x1="129.7" y1="246.79999999999998" x2="147.2" y2="246.79999999999998" stroke="#3dab55" stroke-width="1.2"/>
<circle cx="138.45" cy="246.79999999999998" r="1.1" fill="#3dab55"/>
<text x="150.7" y="249.39999999999998" font-size="7.3" fill="#222">IR700</text>
<line x1="129.7" y1="261.1" x2="147.2" y2="261.1" stroke="#2f3a8c" stroke-width="1.2"/>
<circle cx="138.45" cy="261.1" r="1.1" fill="#2f3a8c"/>
<text x="150.7" y="263.70000000000005" font-size="7.3" fill="#222">PSMA-1-IR700</text>
<line x1="305.5" y1="214.4" x2="305.5" y2="339.3" stroke="#444" stroke-width="0.9"/>
<line x1="305.5" y1="339.3" x2="487.2" y2="339.3" stroke="#444" stroke-width="0.9"/>
<line x1="302.5" y1="339.3" x2="305.5" y2="339.3" stroke="#444" stroke-width="1"/>
<text x="301.3" y="343.6" font-size="9.4" text-anchor="end" fill="#222">0</text>
<line x1="302.5" y1="318.48333333333335" x2="305.5" y2="318.48333333333335" stroke="#444" stroke-width="1"/>
<text x="301.3" y="322.78333333333336" font-size="9.4" text-anchor="end" fill="#222">20</text>
<line x1="302.5" y1="297.6666666666667" x2="305.5" y2="297.6666666666667" stroke="#444" stroke-width="1"/>
<text x="301.3" y="301.9666666666667" font-size="9.4" text-anchor="end" fill="#222">40</text>
<line x1="302.5" y1="276.85" x2="305.5" y2="276.85" stroke="#444" stroke-width="1"/>
<text x="301.3" y="281.15000000000003" font-size="9.4" text-anchor="end" fill="#222">60</text>
<line x1="302.5" y1="256.03333333333336" x2="305.5" y2="256.03333333333336" stroke="#444" stroke-width="1"/>
<text x="301.3" y="260.33333333333337" font-size="9.4" text-anchor="end" fill="#222">80</text>
<line x1="302.5" y1="235.2166666666667" x2="305.5" y2="235.2166666666667" stroke="#444" stroke-width="1"/>
<text x="301.3" y="239.5166666666667" font-size="9.4" text-anchor="end" fill="#222">100</text>
<line x1="302.5" y1="214.4" x2="305.5" y2="214.4" stroke="#444" stroke-width="1"/>
<text x="301.3" y="218.70000000000002" font-size="9.4" text-anchor="end" fill="#222">120</text>
<line x1="305.5" y1="339.3" x2="305.5" y2="341.90000000000003" stroke="#444" stroke-width="1"/>
<text x="305.5" y="353.1" font-size="9.9" text-anchor="middle" fill="#222">0</text>
<line x1="341.84" y1="339.3" x2="341.84" y2="341.90000000000003" stroke="#444" stroke-width="1"/>
<text x="341.84" y="353.1" font-size="9.9" text-anchor="middle" fill="#222">3</text>
<line x1="378.18" y1="339.3" x2="378.18" y2="341.90000000000003" stroke="#444" stroke-width="1"/>
<text x="378.18" y="353.1" font-size="9.9" text-anchor="middle" fill="#222">6</text>
<line x1="414.52" y1="339.3" x2="414.52" y2="341.90000000000003" stroke="#444" stroke-width="1"/>
<text x="414.52" y="353.1" font-size="9.9" text-anchor="middle" fill="#222">9</text>
<line x1="450.86" y1="339.3" x2="450.86" y2="341.90000000000003" stroke="#444" stroke-width="1"/>
<text x="450.86" y="353.1" font-size="9.9" text-anchor="middle" fill="#222">12</text>
<line x1="487.2" y1="339.3" x2="487.2" y2="341.90000000000003" stroke="#444" stroke-width="1"/>
<text x="487.2" y="353.1" font-size="9.9" text-anchor="middle" fill="#222">15</text>
<text x="331.1" y="370.6" font-size="9.7" fill="#222">Absorbed photon cm<tspan dy="-3.9" font-size="6.6">−3</tspan><tspan dy="3.9"> (x10</tspan><tspan dy="-3.9" font-size="6.6">18</tspan><tspan dy="3.9">)</tspan></text>
<text x="280.59999999999997" y="272.6" font-size="9.7" text-anchor="middle" fill="#222" transform="rotate(-90 280.59999999999997 272.6)">Normalized OD at 411 nm</text>
<text x="267.8" y="183.7" font-size="14.2" font-weight="bold" fill="#111">D</text>
<text x="286.3" y="180.7" font-size="9.6" font-weight="bold" fill="#111">Generation of singlet oxygen by PSMA-1–PDT</text>
<text x="286.3" y="192.4" font-size="9.6" font-weight="bold" fill="#111">conjugates in RPMI1640 media</text>
<polyline points="305.50,235.22 318.82,243.02 332.15,249.79 345.47,256.55 358.80,263.84 372.12,267.48 385.45,271.75 398.77,275.81 412.10,277.89" fill="none" stroke="#2f3a8c" stroke-width="1.1" stroke-linejoin="round"/>
<path d="M304.30,234.22 L306.70,234.22 L305.50,236.32 Z" fill="#2f3a8c"/>
<line x1="318.82466666666664" y1="245.10458333333332" x2="318.82466666666664" y2="240.94125" stroke="#2f3a8c" stroke-width="0.8"/>
<line x1="317.32466666666664" y1="245.10458333333332" x2="320.32466666666664" y2="245.10458333333332" stroke="#2f3a8c" stroke-width="0.8"/>
<line x1="317.32466666666664" y1="240.94125" x2="320.32466666666664" y2="240.94125" stroke="#2f3a8c" stroke-width="0.8"/>
<path d="M317.62,242.02 L320.02,242.02 L318.82,244.12 Z" fill="#2f3a8c"/>
<line x1="332.14933333333335" y1="251.87" x2="332.14933333333335" y2="247.70666666666668" stroke="#2f3a8c" stroke-width="0.8"/>
<line x1="330.64933333333335" y1="251.87" x2="333.64933333333335" y2="251.87" stroke="#2f3a8c" stroke-width="0.8"/>
<line x1="330.64933333333335" y1="247.70666666666668" x2="333.64933333333335" y2="247.70666666666668" stroke="#2f3a8c" stroke-width="0.8"/>
<path d="M330.95,248.79 L333.35,248.79 L332.15,250.89 Z" fill="#2f3a8c"/>
<line x1="345.474" y1="258.6354166666667" x2="345.474" y2="254.47208333333333" stroke="#2f3a8c" stroke-width="0.8"/>
<line x1="343.974" y1="258.6354166666667" x2="346.974" y2="258.6354166666667" stroke="#2f3a8c" stroke-width="0.8"/>
<line x1="343.974" y1="254.47208333333333" x2="346.974" y2="254.47208333333333" stroke="#2f3a8c" stroke-width="0.8"/>
<path d="M344.27,255.55 L346.67,255.55 L345.47,257.65 Z" fill="#2f3a8c"/>
<line x1="358.7986666666667" y1="265.92125" x2="358.7986666666667" y2="261.7579166666667" stroke="#2f3a8c" stroke-width="0.8"/>
<line x1="357.2986666666667" y1="265.92125" x2="360.2986666666667" y2="265.92125" stroke="#2f3a8c" stroke-width="0.8"/>
<line x1="357.2986666666667" y1="261.7579166666667" x2="360.2986666666667" y2="261.7579166666667" stroke="#2f3a8c" stroke-width="0.8"/>
<path d="M357.60,262.84 L360.00,262.84 L358.80,264.94 Z" fill="#2f3a8c"/>
<line x1="372.12333333333333" y1="269.56416666666667" x2="372.12333333333333" y2="265.40083333333337" stroke="#2f3a8c" stroke-width="0.8"/>
<line x1="370.62333333333333" y1="269.56416666666667" x2="373.62333333333333" y2="269.56416666666667" stroke="#2f3a8c" stroke-width="0.8"/>
<line x1="370.62333333333333" y1="265.40083333333337" x2="373.62333333333333" y2="265.40083333333337" stroke="#2f3a8c" stroke-width="0.8"/>
<path d="M370.92,266.48 L373.32,266.48 L372.12,268.58 Z" fill="#2f3a8c"/>
<line x1="385.448" y1="273.83158333333336" x2="385.448" y2="269.66825" stroke="#2f3a8c" stroke-width="0.8"/>
<line x1="383.948" y1="273.83158333333336" x2="386.948" y2="273.83158333333336" stroke="#2f3a8c" stroke-width="0.8"/>
<line x1="383.948" y1="269.66825" x2="386.948" y2="269.66825" stroke="#2f3a8c" stroke-width="0.8"/>
<path d="M384.25,270.75 L386.65,270.75 L385.45,272.85 Z" fill="#2f3a8c"/>
<line x1="398.7726666666667" y1="277.8908333333333" x2="398.7726666666667" y2="273.7275" stroke="#2f3a8c" stroke-width="0.8"/>
<line x1="397.2726666666667" y1="277.8908333333333" x2="400.2726666666667" y2="277.8908333333333" stroke="#2f3a8c" stroke-width="0.8"/>
<line x1="397.2726666666667" y1="273.7275" x2="400.2726666666667" y2="273.7275" stroke="#2f3a8c" stroke-width="0.8"/>
<path d="M397.57,274.81 L399.97,274.81 L398.77,276.91 Z" fill="#2f3a8c"/>
<line x1="412.0973333333333" y1="279.9725" x2="412.0973333333333" y2="275.80916666666667" stroke="#2f3a8c" stroke-width="0.8"/>
<line x1="410.5973333333333" y1="279.9725" x2="413.5973333333333" y2="279.9725" stroke="#2f3a8c" stroke-width="0.8"/>
<line x1="410.5973333333333" y1="275.80916666666667" x2="413.5973333333333" y2="275.80916666666667" stroke="#2f3a8c" stroke-width="0.8"/>
<path d="M410.90,276.89 L413.30,276.89 L412.10,278.99 Z" fill="#2f3a8c"/>
<polyline points="305.50,235.22 318.82,239.48 332.15,249.16 345.47,256.76 358.80,260.30 372.12,267.17 385.45,269.46 398.77,276.02 412.10,277.58" fill="none" stroke="#3dab55" stroke-width="1.5" stroke-linejoin="round"/>
<rect x="304.1" y="233.8166666666667" width="2.8" height="2.8" fill="#3dab55"/>
<line x1="318.82466666666664" y1="242.60658333333333" x2="318.82466666666664" y2="236.36158333333333" stroke="#3dab55" stroke-width="0.8"/>
<line x1="317.32466666666664" y1="242.60658333333333" x2="320.32466666666664" y2="242.60658333333333" stroke="#3dab55" stroke-width="0.8"/>
<line x1="317.32466666666664" y1="236.36158333333333" x2="320.32466666666664" y2="236.36158333333333" stroke="#3dab55" stroke-width="0.8"/>
<rect x="317.42466666666667" y="238.08408333333333" width="2.8" height="2.8" fill="#3dab55"/>
<line x1="332.14933333333335" y1="251.76591666666667" x2="332.14933333333335" y2="246.56175000000002" stroke="#3dab55" stroke-width="0.8"/>
<line x1="330.64933333333335" y1="251.76591666666667" x2="333.64933333333335" y2="251.76591666666667" stroke="#3dab55" stroke-width="0.8"/>
<line x1="330.64933333333335" y1="246.56175000000002" x2="333.64933333333335" y2="246.56175000000002" stroke="#3dab55" stroke-width="0.8"/>
<rect x="330.74933333333337" y="247.76383333333334" width="2.8" height="2.8" fill="#3dab55"/>
<line x1="345.474" y1="259.88441666666665" x2="345.474" y2="253.63941666666668" stroke="#3dab55" stroke-width="0.8"/>
<line x1="343.974" y1="259.88441666666665" x2="346.974" y2="259.88441666666665" stroke="#3dab55" stroke-width="0.8"/>
<line x1="343.974" y1="253.63941666666668" x2="346.974" y2="253.63941666666668" stroke="#3dab55" stroke-width="0.8"/>
<rect x="344.074" y="255.3619166666667" width="2.8" height="2.8" fill="#3dab55"/>
<line x1="358.7986666666667" y1="262.9028333333333" x2="358.7986666666667" y2="257.69866666666667" stroke="#3dab55" stroke-width="0.8"/>
<line x1="357.2986666666667" y1="262.9028333333333" x2="360.2986666666667" y2="262.9028333333333" stroke="#3dab55" stroke-width="0.8"/>
<line x1="357.2986666666667" y1="257.69866666666667" x2="360.2986666666667" y2="257.69866666666667" stroke="#3dab55" stroke-width="0.8"/>
<rect x="357.3986666666667" y="258.90075" width="2.8" height="2.8" fill="#3dab55"/>
<line x1="372.12333333333333" y1="269.25191666666666" x2="372.12333333333333" y2="265.0885833333333" stroke="#3dab55" stroke-width="0.8"/>
<line x1="370.62333333333333" y1="269.25191666666666" x2="373.62333333333333" y2="269.25191666666666" stroke="#3dab55" stroke-width="0.8"/>
<line x1="370.62333333333333" y1="265.0885833333333" x2="373.62333333333333" y2="265.0885833333333" stroke="#3dab55" stroke-width="0.8"/>
<rect x="370.72333333333336" y="265.77025000000003" width="2.8" height="2.8" fill="#3dab55"/>
<line x1="385.448" y1="271.54175" x2="385.448" y2="267.3784166666667" stroke="#3dab55" stroke-width="0.8"/>
<line x1="383.948" y1="271.54175" x2="386.948" y2="271.54175" stroke="#3dab55" stroke-width="0.8"/>
<line x1="383.948" y1="267.3784166666667" x2="386.948" y2="267.3784166666667" stroke="#3dab55" stroke-width="0.8"/>
<rect x="384.048" y="268.0600833333334" width="2.8" height="2.8" fill="#3dab55"/>
<line x1="398.7726666666667" y1="278.099" x2="398.7726666666667" y2="273.9356666666667" stroke="#3dab55" stroke-width="0.8"/>
<line x1="397.2726666666667" y1="278.099" x2="400.2726666666667" y2="278.099" stroke="#3dab55" stroke-width="0.8"/>
<line x1="397.2726666666667" y1="273.9356666666667" x2="400.2726666666667" y2="273.9356666666667" stroke="#3dab55" stroke-width="0.8"/>
<rect x="397.3726666666667" y="274.61733333333336" width="2.8" height="2.8" fill="#3dab55"/>
<line x1="412.0973333333333" y1="280.7010833333334" x2="412.0973333333333" y2="274.45608333333337" stroke="#3dab55" stroke-width="0.8"/>
<line x1="410.5973333333333" y1="280.7010833333334" x2="413.5973333333333" y2="280.7010833333334" stroke="#3dab55" stroke-width="0.8"/>
<line x1="410.5973333333333" y1="274.45608333333337" x2="413.5973333333333" y2="274.45608333333337" stroke="#3dab55" stroke-width="0.8"/>
<rect x="410.69733333333335" y="276.1785833333334" width="2.8" height="2.8" fill="#3dab55"/>
<polyline points="305.50,235.22 327.55,301.10 349.59,303.18 371.64,303.18 393.69,303.18 415.73,303.39 437.78,303.39 459.82,303.39 481.87,303.39" fill="none" stroke="#a868a8" stroke-width="1.0" stroke-linejoin="round"/>
<path d="M304.42,236.12 L306.58,236.12 L305.50,234.23 Z" fill="#a868a8"/>
<path d="M326.47,302.00 L328.63,302.00 L327.55,300.11 Z" fill="#a868a8"/>
<path d="M348.51,304.08 L350.67,304.08 L349.59,302.19 Z" fill="#a868a8"/>
<path d="M370.56,304.08 L372.72,304.08 L371.64,302.19 Z" fill="#a868a8"/>
<path d="M392.61,304.08 L394.77,304.08 L393.69,302.19 Z" fill="#a868a8"/>
<path d="M414.65,304.29 L416.81,304.29 L415.73,302.40 Z" fill="#a868a8"/>
<path d="M436.70,304.29 L438.86,304.29 L437.78,302.40 Z" fill="#a868a8"/>
<path d="M458.74,304.29 L460.90,304.29 L459.82,302.40 Z" fill="#a868a8"/>
<path d="M480.79,304.29 L482.95,304.29 L481.87,302.40 Z" fill="#a868a8"/>
<polyline points="305.50,235.22 327.55,289.03 349.59,303.18 371.64,303.18 393.69,303.18 415.73,303.39 437.78,303.39 459.82,303.39 481.87,303.39" fill="none" stroke="#b5213b" stroke-width="1.6" stroke-linejoin="round"/>
<circle cx="305.5" cy="235.2166666666667" r="1.2" fill="#b5213b"/>
<line x1="327.54626666666667" y1="291.62983333333335" x2="327.54626666666667" y2="286.4256666666667" stroke="#b5213b" stroke-width="0.8"/>
<line x1="326.04626666666667" y1="291.62983333333335" x2="329.04626666666667" y2="291.62983333333335" stroke="#b5213b" stroke-width="0.8"/>
<line x1="326.04626666666667" y1="286.4256666666667" x2="329.04626666666667" y2="286.4256666666667" stroke="#b5213b" stroke-width="0.8"/>
<circle cx="327.54626666666667" cy="289.02775" r="1.2" fill="#b5213b"/>
<line x1="349.59253333333334" y1="305.26475" x2="349.59253333333334" y2="301.1014166666667" stroke="#b5213b" stroke-width="0.8"/>
<line x1="348.09253333333334" y1="305.26475" x2="351.09253333333334" y2="305.26475" stroke="#b5213b" stroke-width="0.8"/>
<line x1="348.09253333333334" y1="301.1014166666667" x2="351.09253333333334" y2="301.1014166666667" stroke="#b5213b" stroke-width="0.8"/>
<circle cx="349.59253333333334" cy="303.18308333333334" r="1.2" fill="#b5213b"/>
<line x1="371.6388" y1="304.7443333333333" x2="371.6388" y2="301.62183333333337" stroke="#b5213b" stroke-width="0.8"/>
<line x1="370.1388" y1="304.7443333333333" x2="373.1388" y2="304.7443333333333" stroke="#b5213b" stroke-width="0.8"/>
<line x1="370.1388" y1="301.62183333333337" x2="373.1388" y2="301.62183333333337" stroke="#b5213b" stroke-width="0.8"/>
<circle cx="371.6388" cy="303.18308333333334" r="1.2" fill="#b5213b"/>
<line x1="393.68506666666667" y1="304.7443333333333" x2="393.68506666666667" y2="301.62183333333337" stroke="#b5213b" stroke-width="0.8"/>
<line x1="392.18506666666667" y1="304.7443333333333" x2="395.18506666666667" y2="304.7443333333333" stroke="#b5213b" stroke-width="0.8"/>
<line x1="392.18506666666667" y1="301.62183333333337" x2="395.18506666666667" y2="301.62183333333337" stroke="#b5213b" stroke-width="0.8"/>
<circle cx="393.68506666666667" cy="303.18308333333334" r="1.2" fill="#b5213b"/>
<line x1="415.73133333333334" y1="304.9525" x2="415.73133333333334" y2="301.83" stroke="#b5213b" stroke-width="0.8"/>
<line x1="414.23133333333334" y1="304.9525" x2="417.23133333333334" y2="304.9525" stroke="#b5213b" stroke-width="0.8"/>
<line x1="414.23133333333334" y1="301.83" x2="417.23133333333334" y2="301.83" stroke="#b5213b" stroke-width="0.8"/>
<circle cx="415.73133333333334" cy="303.39125" r="1.2" fill="#b5213b"/>
<line x1="437.7776" y1="304.9525" x2="437.7776" y2="301.83" stroke="#b5213b" stroke-width="0.8"/>
<line x1="436.2776" y1="304.9525" x2="439.2776" y2="304.9525" stroke="#b5213b" stroke-width="0.8"/>
<line x1="436.2776" y1="301.83" x2="439.2776" y2="301.83" stroke="#b5213b" stroke-width="0.8"/>
<circle cx="437.7776" cy="303.39125" r="1.2" fill="#b5213b"/>
<line x1="459.8238666666666" y1="304.9525" x2="459.8238666666666" y2="301.83" stroke="#b5213b" stroke-width="0.8"/>
<line x1="458.3238666666666" y1="304.9525" x2="461.3238666666666" y2="304.9525" stroke="#b5213b" stroke-width="0.8"/>
<line x1="458.3238666666666" y1="301.83" x2="461.3238666666666" y2="301.83" stroke="#b5213b" stroke-width="0.8"/>
<circle cx="459.8238666666666" cy="303.39125" r="1.2" fill="#b5213b"/>
<line x1="481.87013333333334" y1="305.47291666666666" x2="481.87013333333334" y2="301.30958333333336" stroke="#b5213b" stroke-width="0.8"/>
<line x1="480.37013333333334" y1="305.47291666666666" x2="483.37013333333334" y2="305.47291666666666" stroke="#b5213b" stroke-width="0.8"/>
<line x1="480.37013333333334" y1="301.30958333333336" x2="483.37013333333334" y2="301.30958333333336" stroke="#b5213b" stroke-width="0.8"/>
<circle cx="481.87013333333334" cy="303.39125" r="1.2" fill="#b5213b"/>
<line x1="396.5" y1="215.4" x2="414.0" y2="215.4" stroke="#b5213b" stroke-width="1.2"/>
<circle cx="405.25" cy="215.4" r="1.1" fill="#b5213b"/>
<text x="417.5" y="218.0" font-size="7.3" fill="#222">Pc413</text>
<line x1="396.5" y1="229.70000000000002" x2="414.0" y2="229.70000000000002" stroke="#a868a8" stroke-width="1.2"/>
<circle cx="405.25" cy="229.70000000000002" r="1.1" fill="#a868a8"/>
<text x="417.5" y="232.3" font-size="7.3" fill="#222">PSMA-1-Pc413</text>
<line x1="396.5" y1="244.0" x2="414.0" y2="244.0" stroke="#3dab55" stroke-width="1.2"/>
<circle cx="405.25" cy="244.0" r="1.1" fill="#3dab55"/>
<text x="417.5" y="246.6" font-size="7.3" fill="#222">IR700</text>
<line x1="396.5" y1="258.3" x2="414.0" y2="258.3" stroke="#2f3a8c" stroke-width="1.2"/>
<circle cx="405.25" cy="258.3" r="1.1" fill="#2f3a8c"/>
<text x="417.5" y="260.90000000000003" font-size="7.3" fill="#222">PSMA-1-IR700</text>
</svg>
</body></html>
